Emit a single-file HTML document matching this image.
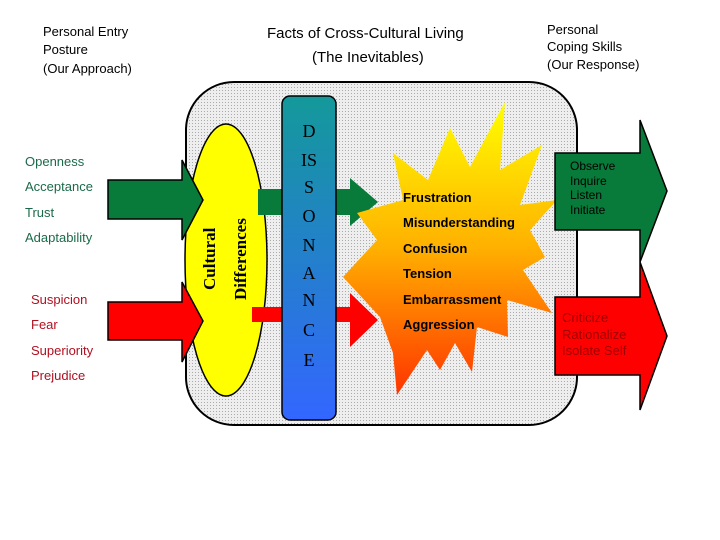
<!DOCTYPE html>
<html><head><meta charset="utf-8"><style>
body{margin:0;background:#fff;}
svg{display:block;font-family:"Liberation Sans",sans-serif;}
</style></head><body>
<svg width="720" height="540" viewBox="0 0 720 540" xmlns="http://www.w3.org/2000/svg">
<defs>
<linearGradient id="bar" x1="0" y1="0" x2="0" y2="1"><stop offset="0" stop-color="#14999a"/><stop offset="1" stop-color="#3366ff"/></linearGradient>
<linearGradient id="star" x1="0" y1="0" x2="0" y2="1"><stop offset="0" stop-color="#ffff00"/><stop offset="0.5" stop-color="#ffb000"/><stop offset="1" stop-color="#ff3300"/></linearGradient>
<pattern id="dots" width="3" height="3" patternUnits="userSpaceOnUse"><rect width="3" height="3" fill="#eee"/><rect width="1" height="1" fill="#aaa"/></pattern>
</defs>
<g font-size="13" fill="#000">
<text x="43" y="36">Personal Entry</text><text x="43" y="54">Posture</text><text x="43" y="73">(Our Approach)</text>
<text x="267" y="38" font-size="15">Facts of Cross-Cultural Living</text>
<text x="312" y="62" font-size="15">(The Inevitables)</text>
<text x="547" y="34">Personal</text><text x="547" y="51">Coping Skills</text><text x="547" y="69">(Our Response)</text>
</g>
<rect x="186" y="82" width="391" height="343" rx="48" fill="url(#dots)" stroke="#000" stroke-width="2"/>
<ellipse cx="226" cy="260" rx="41" ry="136" fill="#ffff00" stroke="#000" stroke-width="1.5"/>
<polygon points="108,180 182,180 182,160 203,200 182,240 182,219 108,219" fill="#087a3a" stroke="#000" stroke-width="1.5"/>
<polygon points="108,302 182,302 182,282 203,321 182,362 182,340 108,340" fill="#ff0000" stroke="#000" stroke-width="1.5"/>
<text transform="translate(215,290) rotate(-90)" font-family="Liberation Serif,serif" font-weight="bold" font-size="17">Cultural</text>
<text transform="translate(246,300) rotate(-90)" font-family="Liberation Serif,serif" font-weight="bold" font-size="17">Differences</text>
<rect x="258" y="189" width="26" height="26" fill="#087a3a"/>
<rect x="252" y="307" width="32" height="15" fill="#ff0000"/>
<polygon points="336,189 350,189 350,178 378,202 350,226 350,215 336,215" fill="#087a3a"/>
<polygon points="336,307 350,307 350,293 378,320 350,347 350,322 336,322" fill="#ff0000"/>
<polygon points="505,102 500,170 542,145 520,205 557,200 530,230 545,257 523,270 552,313 507,300 508,337 477,327 472,372 455,343 440,370 427,350 397,395 393,353 380,317 343,277 377,240 357,213 403,200 393,153 428,180 450,128 470,167" fill="url(#star)"/>
<rect x="282" y="96" width="54" height="324" rx="8" fill="url(#bar)" stroke="#000" stroke-width="1.5"/>
<g font-family="Liberation Serif,serif" font-size="18" fill="#000" text-anchor="middle">
<text x="309" y="137">D</text><text x="309" y="166">IS</text><text x="309" y="193">S</text><text x="309" y="222">O</text><text x="309" y="251">N</text><text x="309" y="279">A</text><text x="309" y="306">N</text><text x="309" y="336">C</text><text x="309" y="366">E</text>
</g>
<g font-size="13" font-weight="bold" fill="#000">
<text x="403" y="202">Frustration</text><text x="403" y="227">Misunderstanding</text><text x="403" y="253">Confusion</text><text x="403" y="278">Tension</text><text x="403" y="304">Embarrassment</text><text x="403" y="329">Aggression</text>
</g>
<polygon points="555,153 640,153 640,120 667,191 640,262 640,230 555,230" fill="#087a3a" stroke="#000" stroke-width="1.5"/>
<polygon points="555,297 640,297 640,262 667,336 640,410 640,375 555,375" fill="#ff0000" stroke="#000" stroke-width="1.5"/>
<g font-size="12" fill="#000"><text x="570" y="170">Observe</text><text x="570" y="185">Inquire</text><text x="570" y="199">Listen</text><text x="570" y="214">Initiate</text></g>
<g font-size="13" fill="#a00000"><text x="562" y="322">Criticize</text><text x="562" y="339">Rationalize</text><text x="562" y="355">Isolate Self</text></g>
<g font-size="13" fill="#1a6a4a"><text x="25" y="166">Openness</text><text x="25" y="191">Acceptance</text><text x="25" y="217">Trust</text><text x="25" y="242">Adaptability</text></g>
<g font-size="13" fill="#b01020"><text x="31" y="304">Suspicion</text><text x="31" y="329">Fear</text><text x="31" y="355">Superiority</text><text x="31" y="380">Prejudice</text></g>
</svg>
</body></html>
